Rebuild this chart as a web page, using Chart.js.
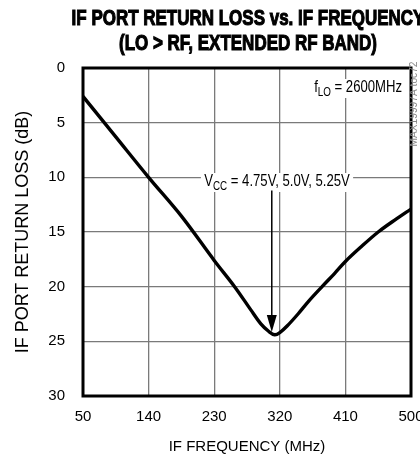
<!DOCTYPE html>
<html>
<head>
<meta charset="utf-8">
<script src="https://cdn.jsdelivr.net/npm/chart.js@4"></script>
<style>
  html, body { margin: 0; padding: 0; background: #fff; }
  #wrap { width: 420px; height: 457px; position: relative; }
</style>
</head>
<body>
<div id="wrap"><canvas id="graph1"></canvas></div>
<script>
// data
const freqMHz      = [50, 95, 140, 185, 230, 258, 280, 294, 305, 313, 320, 330, 345, 360, 378, 395, 410, 430, 455, 480, 500];
const returnLossDb = [2.6, 6.3, 10.0, 13.55, 17.6, 20.0, 22.1, 23.4, 24.1, 24.4, 24.2, 23.6, 22.5, 21.3, 20.0, 18.8, 17.7, 16.45, 15.0, 13.8, 12.9];
const xTicks = [50, 140, 230, 320, 410, 500];
const yTicks = [0, 5, 10, 15, 20, 25, 30];
const titleLines = ["IF PORT RETURN LOSS vs. IF FREQUENCY", "(LO > RF, EXTENDED RF BAND)"];
// arrow of the Vcc note, in data units
const arrowFreq = 309;
const arrowFromDb = 11.2;
const arrowToDb = 24.15;

const SANS = '"Liberation Sans", Arial, sans-serif';
const NARROW_X = 0.82;   // squeeze to look like Helvetica Narrow

// text with a subscript part, squeezed, drawn on a white box
function drawSubText(ctx, parts, x, y, align) {
    let w = 0;
    for (const p of parts) {
        ctx.font = (p[1] ? "12px " : "16px ") + SANS;
        w += ctx.measureText(p[0]).width;
    }
    ctx.save();
    ctx.translate(x, y);
    ctx.scale(NARROW_X, 1);
    let sx = align === "right" ? -w : (align === "center" ? -w / 2 : 0);
    ctx.fillStyle = "#fff";
    ctx.fillRect(sx - 4, -13, w + 8, 19);
    ctx.fillStyle = "#000";
    ctx.textAlign = "left";
    ctx.textBaseline = "alphabetic";
    for (const p of parts) {
        ctx.font = (p[1] ? "12px " : "16px ") + SANS;
        ctx.fillText(p[0], sx, p[1] ? 4 : 0);
        sx += ctx.measureText(p[0]).width;
    }
    ctx.restore();
}

const decor = {
    id: "decor",
    afterDatasetsDraw(chart) {
        const ctx = chart.ctx;
        const a = chart.chartArea;
        const xs = chart.scales.x, ys = chart.scales.y;
        ctx.save();

        // frame
        ctx.strokeStyle = "#000";
        ctx.lineWidth = 3;
        ctx.strokeRect(a.left, a.top, a.right - a.left, a.bottom - a.top);

        // notes
        drawSubText(ctx, [["f"], ["LO", 1], [" = 2600MHz"]], 402, 92, "right");
        drawSubText(ctx, [["V"], ["CC", 1], [" = 4.75V, 5.0V, 5.25V"]], 277, 186, "center");

        // arrow
        const ax = xs.getPixelForValue(arrowFreq);
        const y0 = ys.getPixelForValue(arrowFromDb);
        const y1 = ys.getPixelForValue(arrowToDb);
        ctx.strokeStyle = "#000";
        ctx.lineWidth = 1.5;
        ctx.beginPath();
        ctx.moveTo(ax, y0);
        ctx.lineTo(ax, y1 - 14);
        ctx.stroke();
        ctx.fillStyle = "#000";
        ctx.beginPath();
        ctx.moveTo(ax, y1);
        ctx.lineTo(ax - 5, y1 - 17);
        ctx.lineTo(ax + 5, y1 - 17);
        ctx.closePath();
        ctx.fill();

        // title, heavy and condensed
        ctx.font = "bold 22px " + SANS;
        ctx.textAlign = "center";
        ctx.textBaseline = "middle";
        const k = 258 / ctx.measureText(titleLines[1]).width;
        const cx = (a.left + a.right) / 2 + 1;
        ctx.save();
        ctx.translate(cx, 0);
        ctx.scale(k, 1);
        ctx.lineWidth = 1.1;
        ctx.strokeStyle = "#000";
        ctx.fillText(titleLines[0], 0, 19);
        ctx.strokeText(titleLines[0], 0, 19);
        ctx.fillText(titleLines[1], 0, 44);
        ctx.strokeText(titleLines[1], 0, 44);
        ctx.restore();

        // figure id
        ctx.translate(414, 104);
        ctx.rotate(-Math.PI / 2);
        ctx.font = "10px " + SANS;
        const idt = "MAX19997A toc72";
        ctx.scale(85 / ctx.measureText(idt).width, 1);
        ctx.fillStyle = "#888";
        ctx.fillText(idt, 0, 0);
        ctx.restore();
    }
};

window.addEventListener("load", function () {
    const ctx = document.getElementById("graph1").getContext("2d");
    new Chart(ctx, {
        type: "line",
        data: {
            datasets: [{
                data: freqMHz.map((f, i) => ({ x: f, y: returnLossDb[i] })),
                borderColor: "#000",
                borderWidth: 3.4,
                pointRadius: 0,
                tension: 0.35,
                fill: false
            }]
        },
        options: {
            responsive: true,
            maintainAspectRatio: false,
            animation: false,
            layout: { padding: { top: 68, right: 9, bottom: 0, left: 0 } },
            plugins: { legend: { display: false }, title: { display: false }, tooltip: { enabled: false } },
            scales: {
                x: {
                    type: "linear",
                    min: 50, max: 500,
                    afterBuildTicks: s => { s.ticks = xTicks.map(v => ({ value: v })); },
                    afterFit: s => { s.height = 61; s.paddingLeft = 0; s.paddingRight = 0; },
                    grid: { color: "#7a7a7a", lineWidth: 1.3, drawTicks: false },
                    border: { display: false },
                    ticks: { color: "#000", padding: 12, maxRotation: 0, autoSkip: false,
                             font: { family: SANS, size: 15 } },
                    title: { display: true, text: "IF FREQUENCY (MHz)", color: "#000",
                             padding: { top: 0, bottom: 1 }, font: { family: SANS, size: 15 } }
                },
                y: {
                    reverse: true,
                    min: 0, max: 30,
                    afterBuildTicks: s => { s.ticks = yTicks.map(v => ({ value: v })); },
                    afterFit: s => { s.width = 83; s.paddingTop = 0; s.paddingBottom = 0; },
                    grid: { color: "#7a7a7a", lineWidth: 1.3, drawTicks: false },
                    border: { display: false },
                    ticks: { color: "#000", padding: 18, autoSkip: false,
                             font: { family: SANS, size: 15 } },
                    title: { display: true, text: "IF PORT RETURN LOSS (dB)", color: "#000",
                             padding: { top: 12, bottom: 0 }, font: { family: SANS, size: 18 } }
                }
            }
        },
        plugins: [decor]
    });
});
</script>
</body>
</html>
